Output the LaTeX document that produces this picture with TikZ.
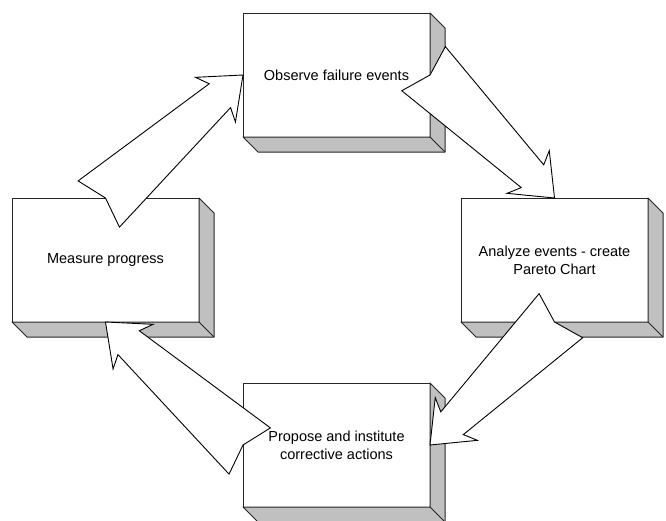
\documentclass[tikz,border=0pt]{standalone}
\usepackage{fontspec}
\setmainfont{Liberation Sans}
\usetikzlibrary{calc}
\definecolor{facegray}{RGB}{192,192,192}

\begin{document}
\begin{tikzpicture}[x=1pt,y=-1pt,
    stepbox/.style={draw=black!85,line width=1pt,fill=white,minimum width=187pt,minimum height=124pt,
      align=center,inner sep=0pt,outer sep=0pt,font=\fontsize{14.5}{18}\selectfont},
    sideface/.style={draw=black!85,line width=1pt,fill=facegray,line join=round},
    fatarrow/.style={draw=black,line width=0.9pt,fill=white,line join=miter}]
\useasboundingbox (0,0) rectangle (666,520);
\node[stepbox] (obs) at (336.5,75) {Observe failure events};
\node[stepbox] (ana) at (554.5,260) {Analyze events - create\\Pareto Chart};
\node[stepbox] (prop) at (336.5,445) {Propose and institute\\corrective actions};
\node[stepbox] (meas) at (105.5,260) {Measure progress};
% shaded sides of the boxes
\foreach \b in {obs,ana,prop,meas}{
  \filldraw[sideface] (\b.north east) -- ++(15,15) |- ([shift={(15,15)}]\b.south west)
    -- (\b.south west) -- (\b.south east) -- cycle;
  \draw[sideface] (\b.south east) -- ++(15,15);
}
% big arrows round the cycle
\foreach \src/\dst in {meas.north/obs.west,obs.east/ana.north,ana.south/prop.east,prop.west/meas.south}{
  \coordinate (tail) at ($(\src)!9pt!180:(\dst)$);
  \filldraw[fatarrow] ($(tail)!31pt!90:(\dst)$) -- (\src) -- ($(tail)!31pt!-90:(\dst)$)
    -- ($(\dst)!31pt!(tail)!16pt!90:(tail)$) -- ($(\dst)!37pt!(tail)!30pt!90:(tail)$) -- (\dst)
    -- ($(\dst)!37pt!(tail)!30pt!-90:(tail)$) -- ($(\dst)!31pt!(tail)!16pt!-90:(tail)$) -- cycle;
}
\end{tikzpicture}
\end{document}
